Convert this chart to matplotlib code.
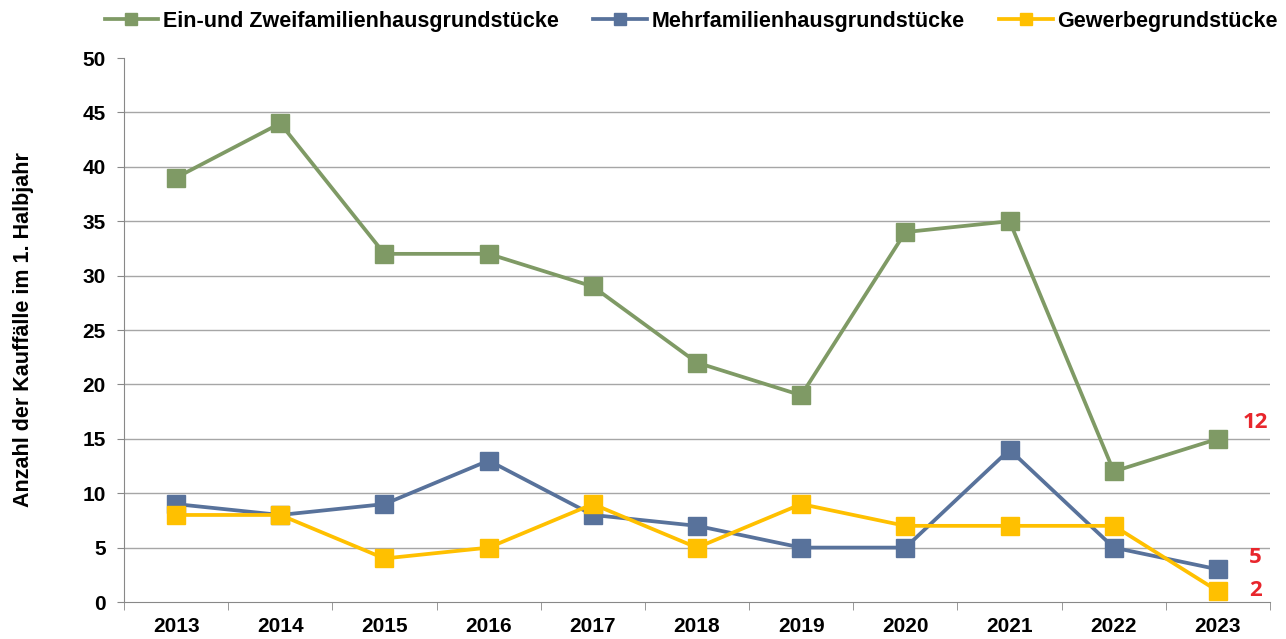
import matplotlib.pyplot as plt

years = ["2013", "2014", "2015", "2016", "2017", "2018", "2019", "2020", "2021", "2022", "2023"]
ein_zwei = [39, 44, 32, 32, 29, 22, 19, 34, 35, 12, 15]
mehr = [9, 8, 9, 13, 8, 7, 5, 5, 14, 5, 3]
gewerbe = [8, 8, 4, 5, 9, 5, 9, 7, 7, 7, 1]

notes = ["12", "5", "2"]
note_y = [16.5, 4.1, 1.1]

plt.rcParams["font.family"] = ["Liberation Sans", "DejaVu Sans"]

fig = plt.figure(figsize=(12.86, 6.39), dpi=100)
ax = fig.add_axes([0.0964, 0.0579, 0.8912, 0.8513])

x = range(len(years))
series = [
    (ein_zwei, "#7F9A65", "Ein-und Zweifamilienhausgrundstücke"),
    (mehr, "#58729B", "Mehrfamilienhausgrundstücke"),
    (gewerbe, "#FFC000", "Gewerbegrundstücke"),
]
for vals, col, lab in series:
    ax.plot(x, vals, color=col, lw=2.7, marker="s", ms=13, label=lab, zorder=3)

ax.set_xlim(-0.5, len(years) - 0.5)
ax.set_ylim(0, 50)
ax.set_yticks(range(0, 51, 5))
ax.set_xticks(list(x))
ax.set_xticklabels(years)
ax.set_xticks([i - 0.5 for i in range(len(years) + 1)], minor=True)
ax.tick_params(axis="x", which="major", length=0, pad=11)
ax.tick_params(axis="x", which="minor", length=6, color="#888888", direction="out")
ax.tick_params(axis="y", length=5, color="#888888", direction="out", pad=8)
for lbl in ax.get_xticklabels() + ax.get_yticklabels():
    lbl.set_fontweight("bold")
    lbl.set_fontsize(15)

# grid lines between 5 and 45 only (no line at the top value)
for yv in range(5, 50, 5):
    ax.axhline(yv, color="#A6A6A6", lw=1, zorder=1)
for s in ["top", "right"]:
    ax.spines[s].set_visible(False)
ax.spines["left"].set_color("#888888")
ax.spines["bottom"].set_color("#888888")

ax.set_ylabel("Anzahl der Kauffälle im 1. Halbjahr", fontsize=15.5, fontweight="bold")
ax.yaxis.set_label_coords(-0.0785, 0.5)

for t, yv in zip(notes, note_y):
    ax.text(10.36, yv, t, color="#E8262C", fontsize=16, fontweight="bold", ha="center", va="center",
            family=["Open Sans", "DejaVu Sans"])

fig.legend(*ax.get_legend_handles_labels(), loc="center", bbox_to_anchor=(0.5373, 0.967), ncol=3,
           frameon=False, prop={"weight": "bold", "size": 15.5}, handlelength=2.5,
           handletextpad=0.2, columnspacing=1.6, markerscale=0.66, borderaxespad=0)

fig.savefig("out.png", dpi=100)
